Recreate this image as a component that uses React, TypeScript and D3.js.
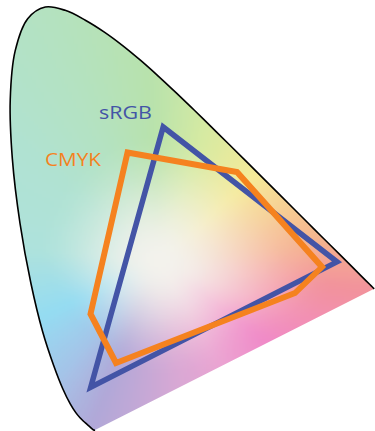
import React, { useMemo } from 'react';
import * as d3 from 'd3';

// CIE 1931 spectral locus (chromaticity x, y) as read against the picture
const wavelengths = [380, 400, 420, 430, 440, 445, 450, 455, 460, 465, 470, 475, 480, 485, 490, 495, 500, 505, 510, 515, 520, 525, 530, 535, 540, 545, 550, 555, 560, 565, 570, 575, 580, 585, 590, 595, 600, 610, 620, 630, 640, 650, 660, 680, 700];
const locusX = [0.1741, 0.1733, 0.1714, 0.1689, 0.1644, 0.1611, 0.1566, 0.151, 0.144, 0.1355, 0.1241, 0.1096, 0.0913, 0.0687, 0.0454, 0.0235, 0.0082, 0.0039, 0.0139, 0.0389, 0.0743, 0.1142, 0.1547, 0.1929, 0.2296, 0.2658, 0.3016, 0.3373, 0.3731, 0.4087, 0.4441, 0.4788, 0.5125, 0.5448, 0.5752, 0.6029, 0.627, 0.6658, 0.6915, 0.7079, 0.719, 0.726, 0.73, 0.7334, 0.7347];
const locusY = [0.005, 0.0048, 0.0051, 0.0069, 0.0109, 0.0138, 0.0177, 0.0227, 0.0297, 0.0399, 0.0578, 0.0868, 0.1327, 0.2007, 0.295, 0.4127, 0.5384, 0.6548, 0.7502, 0.812, 0.8338, 0.8262, 0.8059, 0.7816, 0.7543, 0.7243, 0.6923, 0.6589, 0.6245, 0.5896, 0.5547, 0.5202, 0.4866, 0.4544, 0.4242, 0.3965, 0.3725, 0.334, 0.3083, 0.292, 0.2809, 0.274, 0.27, 0.2666, 0.2653];

// Gamut vertices
const gamutNames = ['sRGB', 'CMYK'];
const srgbX = [0.311, 0.66, 0.1655];
const srgbY = [0.593, 0.32, 0.0886];
const cmykX = [0.2394, 0.4592, 0.6299, 0.5757, 0.2163, 0.1651];
const cmykY = [0.5451, 0.501, 0.3108, 0.2615, 0.1346, 0.2318];

// styling: pastel fill hues around the white point (angle in degrees, colour, reach in px)
const hueAngles = [-174, -141, -114, -93, -71, -42, -22, -6, 8, 20, 37, 60, 82, 113, 131, 155];
const hueColors = ['#aee2dc', '#b0e2d2', '#b4e2c0', '#b8e2ac', '#d6eaa2', '#f5ea98', '#f6cc92', '#f4b08e', '#f2929c', '#f290b2', '#f08ac8', '#eaa4d2', '#d8a8d4', '#b0a8d8', '#a4c4e8', '#94dcf2'];
const hueReach = [120, 120, 125, 125, 125, 125, 140, 160, 175, 160, 130, 120, 110, 110, 100, 100];

const W = 375;
const H = 431;
const BLUE = '#4354a6';
const ORANGE = '#f5821f';
const WHITE_PT: [number, number] = [160, 262];
const CENTER_COLOR = '#f3f2ec';

function edgeAt(a: number): { c: string; r: number } {
  const n = hueAngles.length;
  const A = [hueAngles[n - 1] - 360, ...hueAngles, hueAngles[0] + 360];
  const C = [hueColors[n - 1], ...hueColors, hueColors[0]];
  const R = [hueReach[n - 1], ...hueReach, hueReach[0]];
  for (let i = 0; i < A.length - 1; i++) {
    if (a >= A[i] && a <= A[i + 1]) {
      const t = (a - A[i]) / (A[i + 1] - A[i]);
      return { c: d3.interpolateLab(C[i], C[i + 1])(t), r: R[i] + (R[i + 1] - R[i]) * t };
    }
  }
  return { c: C[0], r: R[0] };
}

function colorAt(px: number, py: number): string {
  const dx = px - WHITE_PT[0];
  const dy = py - WHITE_PT[1];
  const r = Math.sqrt(dx * dx + dy * dy);
  const a = (Math.atan2(dy, dx) * 180) / Math.PI;
  const e = edgeAt(a);
  let t = Math.max(0, Math.min(1, (r - 4) / e.r));
  t = t * t * (3 - 2 * t);
  return d3.interpolateLab(CENTER_COLOR, e.c)(t);
}

export default function App() {
  const xs = d3.scaleLinear().domain([0, 0.8]).range([8.3, 8.3 + 0.8 * 498]);
  const ys = d3.scaleLinear().domain([0, 0.9]).range([435.2, 435.2 - 0.9 * 512]);
  const SKEW = 'skewY(-1.61)';

  const locusPts: [number, number][] = wavelengths.map((_, i) => [xs(locusX[i]), ys(locusY[i])]);
  const curve = d3.line().curve(d3.curveCatmullRom.alpha(0.5));
  const outline = curve(locusPts) || '';
  const area = outline + 'Z';

  const poly = d3.line().curve(d3.curveLinearClosed);
  const srgbPath = poly(srgbX.map((x, i) => [xs(x), ys(srgbY[i])] as [number, number])) || '';
  const cmykPath = poly(cmykX.map((x, i) => [xs(x), ys(cmykY[i])] as [number, number])) || '';

  const step = 4;
  const cells = useMemo(() => {
    const out: { x: number; y: number; c: string }[] = [];
    for (let y = -12; y < H + 12; y += step) {
      for (let x = -12; x < W + 12; x += step) {
        out.push({ x, y, c: colorAt(x + step / 2, y + step / 2) });
      }
    }
    return out;
  }, []);

  return (
    <svg width={W} height={H} viewBox={`0 0 ${W} ${H}`} style={{ position: 'absolute', left: 0, top: 0, display: 'block', background: '#fff' }}>
      <defs>
        <clipPath id="locusClip" clipPathUnits="userSpaceOnUse">
          <path d={area} transform={SKEW} />
        </clipPath>
        <filter id="soft" x="-5%" y="-5%" width="110%" height="110%">
          <feGaussianBlur stdDeviation="3" />
        </filter>
      </defs>
      <g clipPath="url(#locusClip)">
        <g filter="url(#soft)">
          {cells.map((d, i) => (
            <rect key={i} x={d.x} y={d.y} width={step + 0.5} height={step + 0.5} fill={d.c} shapeRendering="crispEdges" />
          ))}
        </g>
      </g>
      <g transform={SKEW}>
        <path d={outline} fill="none" stroke="#000" strokeWidth={1.6} />
        <path d={srgbPath} fill="none" stroke={BLUE} strokeWidth={5.5} strokeLinejoin="miter" strokeMiterlimit={10} />
        <path d={cmykPath} fill="none" stroke={ORANGE} strokeWidth={6} strokeLinejoin="miter" strokeMiterlimit={10} />
      </g>
      <text x={99} y={119} fill={BLUE} fontFamily="'Open Sans', sans-serif" fontSize={19} textLength={53} lengthAdjust="spacingAndGlyphs">{gamutNames[0]}</text>
      <text x={45} y={166} fill={ORANGE} fontFamily="'Open Sans', sans-serif" fontSize={19} textLength={56} lengthAdjust="spacingAndGlyphs">{gamutNames[1]}</text>
    </svg>
  );
}
